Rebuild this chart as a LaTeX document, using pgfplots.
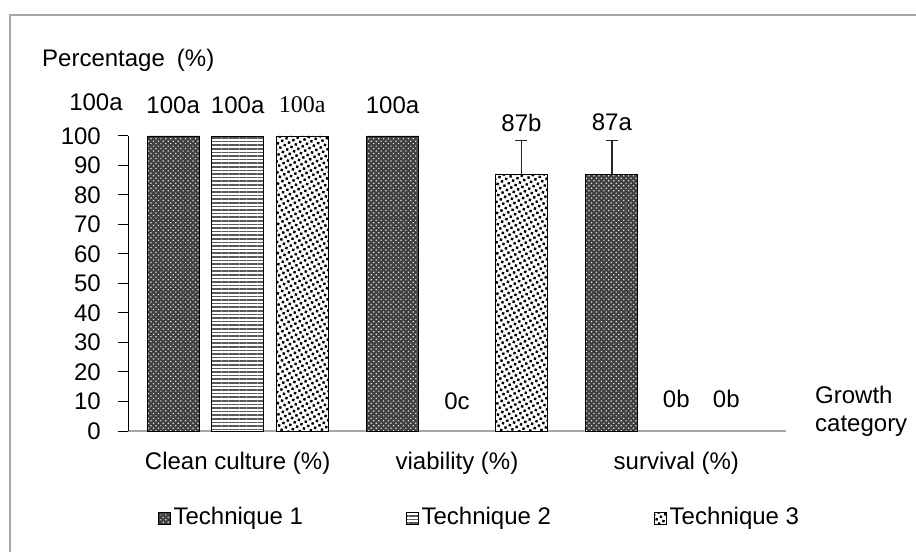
\documentclass[border=0pt]{standalone}
\usepackage{fontspec}
\setmainfont{Liberation Sans}
\newfontfamily\seriffont{Liberation Serif}
\usepackage{pgfplots}
\pgfplotsset{compat=1.18}
\usetikzlibrary{patterns.meta}
\begin{document}
\fontsize{24}{28}\selectfont
\begin{tikzpicture}
\path[use as bounding box] (0,0) rectangle (916pt,552pt);
\draw[black!35, line width=1.5pt] (10pt,0) -- (10pt,537pt) -- (916pt,537pt);
\begin{axis}[
  at={(128pt,121pt)}, anchor=south west,
  scale only axis, width=658pt, height=295pt,
  xmin=-0.5, xmax=2.5, ymin=0, ymax=100,
  clip=false,
  bar width=52pt,
  axis x line*=bottom, axis y line*=left,
  x axis line style={-, draw=black!35, line width=1.8pt},
  y axis line style={-, draw=black, line width=1pt},
  xtick={0,1,2},
  xticklabels={Clean culture (\%), viability (\%), survival (\%)},
  x tick style={draw=none},
  ytick={0,10,...,100},
  y tick style={black, line width=1pt},
  tick align=outside,
  major tick length=10pt,
  /pgf/number format/assume math mode=true,
  xticklabel style={yshift=-3pt},
  yticklabel style={xshift=-9pt},
  legend columns=3,
  legend style={at={(0.535,-0.295)}, anchor=center, draw=none, fill=none,
    nodes={inner xsep=3pt},
    /tikz/every even column/.append style={column sep=100pt}},
  mybar/.style={ybar, bar shift=0pt, draw=black, line width=0.8pt,
    legend image code/.code={\draw[##1, line width=0.6pt] (0pt,-6pt) rectangle (12pt,6pt);}},
]
\addplot[mybar, fill=black!75, postaction={pattern={Dots[distance=3.5pt,radius=0.85pt,angle=45]}, pattern color=white!90!black}]
  coordinates {(-0.294,100) (0.706,100) (1.706,87)};
\addlegendentry{Technique 1}
\addplot[mybar, fill=white, postaction={pattern={Lines[distance=3.6pt,line width=1.5pt,angle=0]}, pattern color=black!65}]
  coordinates {(0,100)};
\addlegendentry{Technique 2}
\addplot[mybar, fill=white, postaction={pattern={Dots[distance=5pt,radius=1.7pt,angle=30]}, pattern color=black}]
  coordinates {(0.294,100) (1.294,87)};
\addlegendentry{Technique 3}
\addplot[forget plot, draw=none, mark=none,
  error bars/.cd, y dir=plus, y explicit,
  error bar style={draw=black!85, line width=1.5pt},
  error mark options={rotate=90, mark size=6pt, line width=1.5pt, draw=black!85}]
  coordinates {(1.294,87) +- (0,11.4) (1.706,87) +- (0,11.4)};
\node at (axis cs:-0.294,110.5) {100a};
\node at (axis cs:0,110.5) {100a};
\node at (axis cs:0.294,110.5) {\seriffont 100a};
\node at (axis cs:0.706,110.5) {100a};
\node at (axis cs:1,10) {0c};
\node at (axis cs:1.294,104.5) {87b};
\node at (axis cs:1.706,104.5) {87a};
\node at (axis cs:2,10.8) {0b};
\node at (axis cs:2.228,10.8) {0b};
\end{axis}
\node[anchor=west, inner sep=0pt] at (42pt,492pt) {Percentage\hspace{0.5em}(\%)};
\node at (96pt,450pt) {100a};
\node[anchor=west, align=left, inner sep=0pt] at (815pt,141pt) {Growth\\category};
\end{tikzpicture}
\end{document}
